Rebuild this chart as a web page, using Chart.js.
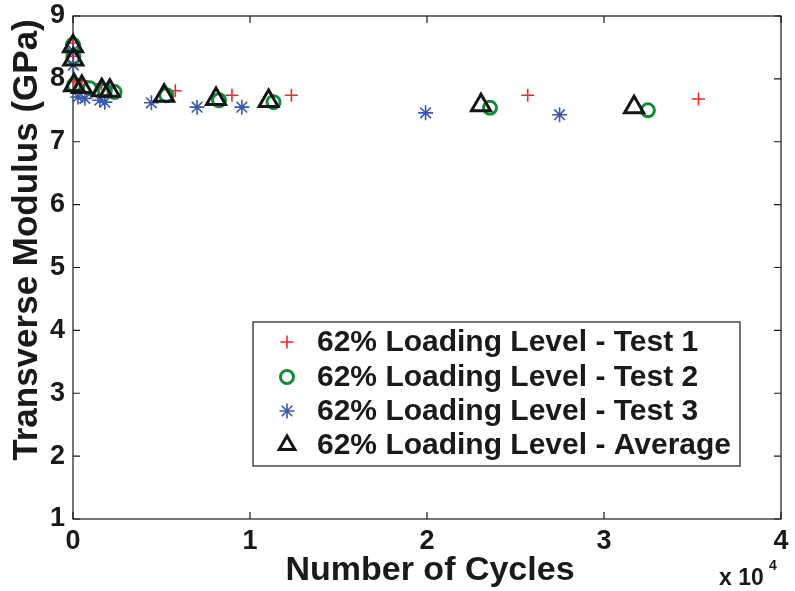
<!DOCTYPE html>
<html>
<head>
<meta charset="utf-8">
<script src="https://cdn.jsdelivr.net/npm/chart.js@4/dist/chart.umd.min.js"></script>
<style>
  html, body { margin: 0; padding: 0; background: #ffffff; }
  #wrap { width: 795px; height: 591px; }
</style>
</head>
<body>
<div id="wrap"><canvas id="c" width="795" height="591"></canvas></div>
<script>
// Transverse modulus vs. number of fatigue cycles, 62% loading level
const seriesLabels = [
  '62% Loading Level - Test 1',
  '62% Loading Level - Test 2',
  '62% Loading Level - Test 3',
  '62% Loading Level - Average'
];

const test1Cycles  = [0, 20, 120, 500, 1600, 2050, 5780, 8980, 12340, 25690, 35340];
const test1Modulus = [8.57, 8.36, 7.96, 7.97, 7.92, 7.85, 7.81, 7.74, 7.74, 7.74, 7.68];

const test2Cycles  = [0, 20, 60, 950, 1800, 2350, 5270, 8250, 11330, 23560, 32480];
const test2Modulus = [8.54, 8.35, 7.90, 7.85, 7.81, 7.79, 7.74, 7.66, 7.63, 7.54, 7.50];

const test3Cycles  = [0, 20, 280, 670, 1510, 1800, 4430, 7010, 9540, 19920, 27490];
const test3Modulus = [8.45, 8.22, 7.71, 7.69, 7.66, 7.63, 7.62, 7.55, 7.55, 7.46, 7.43];

const avgCycles  = [0, 20, 60, 500, 1630, 2080, 5150, 8080, 11050, 23050, 31700];
const avgModulus = [8.52, 8.31, 7.90, 7.87, 7.82, 7.81, 7.73, 7.68, 7.65, 7.58, 7.55];

const xTickValues = [0, 10000, 20000, 30000, 40000];
const yTickValues = [1, 2, 3, 4, 5, 6, 7, 8, 9];

const FONT = '"Liberation Sans", Arial, Helvetica, sans-serif';
const INK = '#1a1a1a';

function pairs(xs, ys) {
  return xs.map((x, i) => ({ x: x, y: ys[i] }));
}

const seriesStyles = [
  { pointStyle: 'cross',    radius: 6.5, borderWidth: 1.6, color: '#ee2a2a' },
  { pointStyle: 'circle',   radius: 6.5, borderWidth: 3,   color: '#138a3c' },
  { pointStyle: 'star',     radius: 7.5, borderWidth: 1.6, color: '#3a58b0' },
  { pointStyle: 'triangle', radius: 11,  borderWidth: 3,   color: '#161616' }
];

const seriesData = [
  pairs(test1Cycles, test1Modulus),
  pairs(test2Cycles, test2Modulus),
  pairs(test3Cycles, test3Modulus),
  pairs(avgCycles, avgModulus)
];

const datasets = seriesData.map((d, i) => ({
  label: seriesLabels[i],
  data: d,
  showLine: false,
  clip: false,
  order: 3 - i,
  pointStyle: seriesStyles[i].pointStyle,
  pointRadius: seriesStyles[i].radius,
  pointHoverRadius: seriesStyles[i].radius,
  pointBorderWidth: seriesStyles[i].borderWidth,
  pointBorderColor: seriesStyles[i].color,
  pointBackgroundColor: 'rgba(0,0,0,0)'
}));

// Box around the plot with inward tick marks on all four sides
const framePlugin = {
  id: 'frame',
  beforeDatasetsDraw(chart) {
    const { ctx, chartArea: a, scales } = chart;
    ctx.save();
    ctx.strokeStyle = INK;
    ctx.lineWidth = 1.2;
    ctx.strokeRect(a.left, a.top, a.right - a.left, a.bottom - a.top);
    const len = 7;
    ctx.beginPath();
    xTickValues.forEach(v => {
      const px = scales.x.getPixelForValue(v);
      ctx.moveTo(px, a.bottom); ctx.lineTo(px, a.bottom - len);
      ctx.moveTo(px, a.top);    ctx.lineTo(px, a.top + len);
    });
    yTickValues.forEach(v => {
      const py = scales.y.getPixelForValue(v);
      ctx.moveTo(a.left, py);  ctx.lineTo(a.left + len, py);
      ctx.moveTo(a.right, py); ctx.lineTo(a.right - len, py);
    });
    ctx.stroke();
    ctx.restore();
  }
};

// Axis titles, exponent note and the boxed legend inside the plot
const annotatePlugin = {
  id: 'annotate',
  afterDraw(chart) {
    const { ctx } = chart;
    ctx.save();
    ctx.fillStyle = INK;

    // y-axis title
    ctx.save();
    ctx.translate(27, 240);
    ctx.rotate(-Math.PI / 2);
    ctx.font = 'bold 35px ' + FONT;
    ctx.textAlign = 'center';
    ctx.textBaseline = 'middle';
    ctx.fillText('Transverse Modulus (GPa)', 0, 0);
    ctx.restore();

    // x-axis title
    ctx.font = 'bold 34px ' + FONT;
    ctx.textAlign = 'center';
    ctx.textBaseline = 'alphabetic';
    ctx.fillText('Number of Cycles', 430, 580);

    // exponent of the x axis
    ctx.font = 'bold 23px ' + FONT;
    ctx.textAlign = 'left';
    ctx.fillText('x 10', 719, 585);
    ctx.font = 'bold 14px ' + FONT;
    ctx.fillText('4', 769, 570);

    // legend
    const box = { left: 253, top: 322, right: 740, bottom: 466 };
    ctx.fillStyle = '#ffffff';
    ctx.fillRect(box.left, box.top, box.right - box.left, box.bottom - box.top);
    ctx.strokeStyle = INK;
    ctx.lineWidth = 1.2;
    ctx.strokeRect(box.left, box.top, box.right - box.left, box.bottom - box.top);

    const rows = [342, 377, 411, 445];
    chart.data.datasets.forEach((ds, i) => {
      const st = seriesStyles[i];
      ctx.save();
      ctx.strokeStyle = st.color;
      ctx.fillStyle = 'rgba(0,0,0,0)';
      ctx.lineWidth = st.borderWidth;
      const r = st.pointStyle === 'triangle' ? 9 : st.radius;
      Chart.helpers.drawPoint(ctx, {
        pointStyle: st.pointStyle, radius: r, rotation: 0, borderWidth: st.borderWidth
      }, 287, rows[i]);
      ctx.restore();
      ctx.fillStyle = INK;
      ctx.font = 'bold 30px ' + FONT;
      ctx.textAlign = 'left';
      ctx.textBaseline = 'middle';
      ctx.fillText(ds.label, 317, rows[i] + 1);
    });
    ctx.restore();
  }
};

new Chart(document.getElementById('c'), {
  type: 'scatter',
  data: { datasets: datasets },
  options: {
    responsive: false,
    animation: false,
    devicePixelRatio: 1,
    events: [],
    layout: { padding: { top: 16, right: 9, left: 0, bottom: 0 } },
    plugins: {
      legend: { display: false },
      tooltip: { enabled: false }
    },
    scales: {
      x: {
        type: 'linear',
        min: 0,
        max: 40000,
        afterBuildTicks(scale) { scale.ticks = xTickValues.map(v => ({ value: v })); },
        afterFit(scale) {
          scale.height = 72;
          scale.paddingLeft = 0; scale.paddingRight = 0;
        },
        grid: { display: false, drawTicks: false },
        border: { display: false },
        ticks: {
          callback: v => String(v / 10000),
          font: { family: FONT, size: 27, weight: 'bold' },
          color: INK,
          padding: 6,
          maxRotation: 0
        }
      },
      y: {
        type: 'linear',
        min: 1,
        max: 9,
        afterBuildTicks(scale) { scale.ticks = yTickValues.map(v => ({ value: v })); },
        afterFit(scale) {
          scale.width = 73;
          scale.paddingTop = 0; scale.paddingBottom = 0;
        },
        grid: { display: false, drawTicks: false },
        border: { display: false },
        ticks: {
          callback: v => String(v),
          font: { family: FONT, size: 27, weight: 'bold' },
          color: INK,
          padding: 8
        }
      }
    }
  },
  plugins: [framePlugin, annotatePlugin]
});
</script>
</body>
</html>
